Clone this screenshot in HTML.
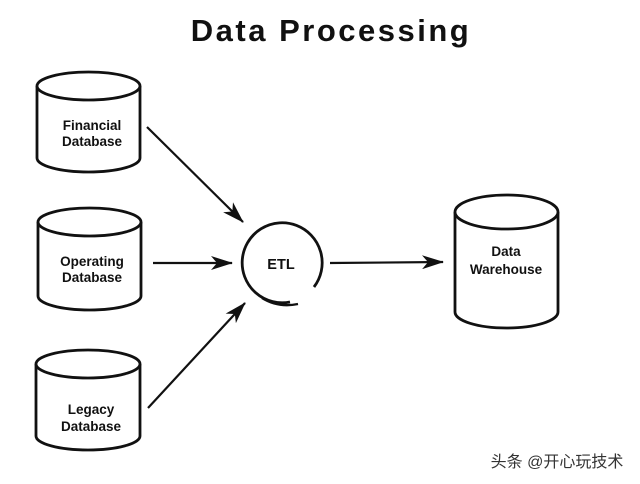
<!DOCTYPE html>
<html><head><meta charset="utf-8"><style>
html,body{margin:0;padding:0;background:#fff;}
svg{display:block}
text{font-family:"Liberation Sans",Arial,sans-serif;font-weight:bold;fill:#111}
</style></head><body>
<svg width="640" height="484" viewBox="0 0 640 484">
<defs><marker id="a" markerWidth="22" markerHeight="14" refX="21" refY="7" orient="auto" markerUnits="userSpaceOnUse"><path d="M0,0 L22,7 L0,14 L6,7 Z" fill="#111"/></marker></defs>
<text x="331" y="41" font-size="31" text-anchor="middle" letter-spacing="2.5">Data Processing</text>
<g fill="#fff" stroke="#111" stroke-width="2.8">
<path d="M37,86 V158 A51.5,14 0 0 0 140,158 V86"/><ellipse cx="88.5" cy="86" rx="51.5" ry="14"/>
<path d="M38,222 V296 A51.5,14 0 0 0 141,296 V222"/><ellipse cx="89.5" cy="222" rx="51.5" ry="14"/>
<path d="M36,364 V436 A52,14 0 0 0 140,436 V364"/><ellipse cx="88" cy="364" rx="52" ry="14"/>
<path d="M455,212 V312 A51.5,16 0 0 0 558,312 V212"/><ellipse cx="506.5" cy="212" rx="51.5" ry="17"/>
</g>
<g font-size="13.5" text-anchor="middle">
<text x="92" y="130">Financial</text><text x="92" y="146">Database</text>
<text x="92" y="266">Operating</text><text x="92" y="282">Database</text>
<text x="91" y="414">Legacy</text><text x="91" y="431">Database</text>
<text x="506" y="256">Data</text><text x="506" y="274">Warehouse</text>
<text x="281" y="269" font-size="14.5">ETL</text>
</g>
<path d="M290,302 A40,40 0 1 1 314,287" fill="none" stroke="#111" stroke-width="2.8"/>
<path d="M262,298 Q278,308 298,304" fill="none" stroke="#111" stroke-width="2.4"/>
<g stroke="#111" stroke-width="2.2" marker-end="url(#a)">
<line x1="147" y1="127" x2="243" y2="222"/>
<line x1="153" y1="263" x2="232" y2="263"/>
<line x1="148" y1="408" x2="245" y2="303"/>
<line x1="330" y1="263" x2="443" y2="262"/>
</g>
<text x="557" y="467" font-size="16" text-anchor="middle" style="font-family:'Liberation Sans','Noto Sans CJK SC',sans-serif;font-weight:normal;fill:#333">头条 @开心玩技术</text>
</svg>
</body></html>
